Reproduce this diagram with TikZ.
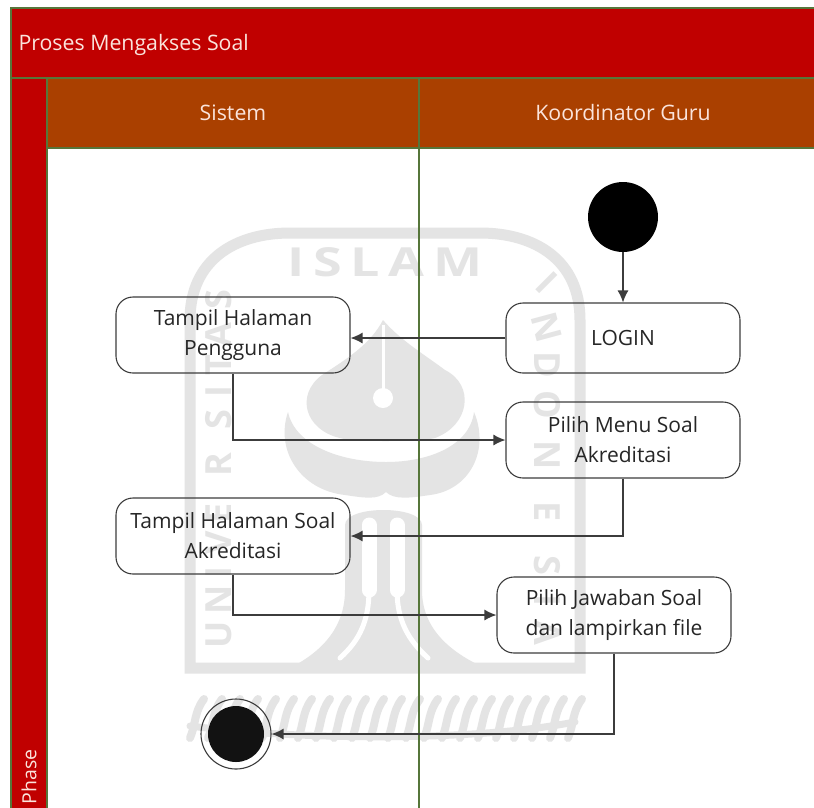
\documentclass[tikz,border=0pt]{standalone}
\usepackage{fontspec}
\setmainfont{Open Sans}
\usetikzlibrary{arrows.meta}
\definecolor{judul}{HTML}{C00000}
\definecolor{kolom}{HTML}{AA4000}
\definecolor{garis}{HTML}{56763A}
\definecolor{tepi}{HTML}{3C3C3C}
\definecolor{logo}{HTML}{E4E4E4}
\definecolor{tulisan}{HTML}{FBE4DC}
\tikzset{
	aktivitas/.style={draw=tepi,line width=1.1pt,rounded corners=17pt,minimum width=234pt,align=center,font=\fontsize{21}{30}\selectfont,text=black!85},
	judulteks/.style={text=tulisan,font=\fontsize{21.3}{25}\selectfont},
	alur/.style={draw=tepi,line width=1.3pt,-{Latex[length=12pt,width=11pt]}},
	hurufbesar/.style={text=logo,font=\fontsize{40}{40}\selectfont\bfseries}
}
\begin{document}
\begin{tikzpicture}[x=1pt,y=-1pt]
	\useasboundingbox (0,0) rectangle (814,807);
	\fill[white] (0,0) rectangle (814,807);
	% logo
	\begin{scope}[draw=logo,line width=11pt]
		\draw (190,668)--(190,320) .. controls (190,260) and (235,233) .. (290,233)--(480,233) .. controls (535,233) and (580,260) .. (580,320)--(580,668)--cycle;
	\end{scope}
	\fill[logo] (383,320) .. controls (370,345) and (345,360) .. (322,375) .. controls (295,395) and (305,430) .. (340,438) .. controls (350,442) and (420,442) .. (435,438) .. controls (470,425) and (475,385) .. (445,370) .. controls (425,355) and (400,340) .. (383,320);
	\draw[white,line width=3pt] (383,325)--(383,395);
	\fill[white] (383,398) circle (10);
	\fill[logo] (288,412) .. controls (275,450) and (300,490) .. (345,495) .. controls (365,498) and (378,500) .. (386,492) .. controls (394,500) and (410,498) .. (430,495) .. controls (470,490) and (490,450) .. (474,412) .. controls (470,445) and (430,462) .. (386,462) .. controls (340,462) and (295,445) .. (288,412);
	\fill[logo] (290,668) .. controls (325,650) and (345,625) .. (345,590)--(345,525) .. controls (345,505) and (422,505) .. (422,525)--(422,590) .. controls (422,625) and (445,650) .. (485,668)--cycle;
	\begin{scope}[draw=white,line width=15pt,line cap=round]
		\draw (369,525)--(369,590);
		\draw (397,525)--(397,590);
	\end{scope}
	\begin{scope}[draw=white,line width=5pt,line cap=round]
		\draw (369,590) .. controls (369,620) and (360,640) .. (340,658);
		\draw (397,590) .. controls (397,620) and (408,640) .. (428,658);
	\end{scope}
	\node[hurufbesar,xscale=1.3] (islam) at (385,262) {I\,S\,L\,A\,M};
	\foreach \huruf/\py/\sudut in {I/283/-45,N/327/-75,D/365/-90,O/405/-90,N/455/-90,E/512/-90,S/565/-90,I/600/-90,A/633/-90}
		\node[hurufbesar,rotate=\sudut,scale=.9] at (547,\py) {\huruf};
	\foreach \huruf/\py in {U/635,N/600,I/573,V/543,E/513,R/465,S/420,I/392,T/365,A/335,S/300}
		\node[hurufbesar,rotate=90,scale=.9] at (219,\py) {\huruf};
	\begin{scope}[draw=logo,line width=8pt,line cap=round]
		\foreach \px in {190,208,...,570}
			\draw (\px,738) .. controls (\px+6,724) and (\px+4,712) .. (\px+14,699);
		\draw[line width=7pt] (190,726) .. controls (300,740) and (470,742) .. (575,722);
	\end{scope}
	% jalur
	\fill[judul] (11,8) rectangle (820,78);
	\fill[judul] (11,78) rectangle (47,820);
	\fill[kolom] (47,78) rectangle (820,148);
	\begin{scope}[draw=garis,line width=1.2pt]
		\draw (820,8)--(11,8)--(11,820);
		\draw (11,78)--(820,78);
		\draw (47,78)--(47,820);
		\draw (47,148)--(820,148);
		\draw (419,78)--(419,820);
	\end{scope}
	\node[judulteks,anchor=west] (proses) at (15,45) {Proses Mengakses Soal};
	\node[judulteks] (sistem) at (233,113) {Sistem};
	\node[judulteks] (koordinator) at (623,113) {Koordinator Guru};
	\node[judulteks,rotate=90,font=\fontsize{19.5}{24}\selectfont] (phase) at (29,777) {Phase};
	% aktivitas
	\node[circle,fill=black,minimum size=70pt,inner sep=0pt,path picture={\fill[black!90] (590,210) rectangle (635,260);}] (mulai) at (623,217) {};
	\node[aktivitas,minimum height=70pt] (login) at (623,338) {LOGIN};
	\node[aktivitas,minimum height=76pt] (pengguna) at (233,335) {Tampil Halaman\\Pengguna};
	\node[aktivitas,minimum height=76pt] (menu) at (623,440) {Pilih Menu Soal\\Akreditasi};
	\node[aktivitas,minimum height=76pt] (halaman) at (233,536) {Tampil Halaman Soal\\Akreditasi};
	\node[aktivitas,minimum height=76pt] (jawaban) at (614,615) {Pilih Jawaban Soal\\dan lampirkan file};
	\node[circle,draw=tepi,line width=1.1pt,minimum size=70pt,inner sep=0pt] (selesai) at (236,734) {};
	\node[circle,fill=black!93,minimum size=56pt,inner sep=0pt] (titik) at (selesai) {};
	% alur
	\draw[alur] (mulai)--(login);
	\draw[alur] (login.west)--(login.west -| pengguna.east);
	\draw[alur] (pengguna.south) |- (menu.west);
	\draw[alur] (menu.south) |- (halaman.east);
	\draw[alur] (halaman.south) |- (jawaban.west);
	\draw[alur] (jawaban.south) |- (selesai.east);
\end{tikzpicture}
\end{document}
